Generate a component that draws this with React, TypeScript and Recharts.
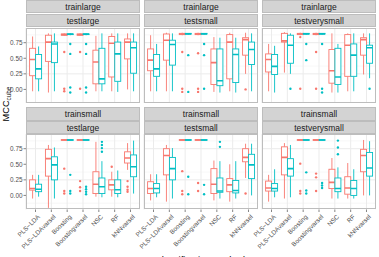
import React from 'react';
import { ComposedChart, Bar, XAxis, YAxis, CartesianGrid } from 'recharts';

// [lower whisker, q1, median, q3, upper whisker, outliers]
type Box = [number, number, number, number, number, number[]];

const classifiers = ['PLS−LDA', 'PLS−LDAvarsel', 'Boosting', 'Boostingvarsel', 'NSC', 'RF', 'kNNvarsel'];
const trainLabels = ['trainlarge', 'trainsmall'];
const testLabels = ['testlarge', 'testsmall', 'testverysmall'];
const yTicks = [0, 0.25, 0.5, 0.75];
const yMinor = [-0.125, 0.125, 0.375, 0.625, 0.875];
const yTickLabels = ['0.00', '0.25', '0.50', '0.75'];

// trainlarge / testlarge
const tlLargeRed: Box[] = [
  [-0.03, 0.22, 0.48, 0.66, 0.85, []],
  [-0.05, 0.45, 0.76, 0.87, 0.9, []],
  [0.86, 0.87, 0.88, 0.89, 0.9, [0.6, 0.01, -0.03]],
  [0.86, 0.87, 0.88, 0.89, 0.9, [0.6, 0.01]],
  [-0.03, 0.09, 0.44, 0.63, 0.86, []],
  [-0.03, 0.2, 0.74, 0.85, 0.9, []],
  [0.0, 0.49, 0.76, 0.81, 0.9, []],
];
const tlLargeTeal: Box[] = [
  [-0.03, 0.17, 0.33, 0.56, 0.69, []],
  [-0.03, 0.43, 0.73, 0.76, 0.9, []],
  [0.87, 0.88, 0.89, 0.89, 0.9, [0.73, 0.57, 0.03, -0.05]],
  [0.87, 0.88, 0.89, 0.89, 0.9, [0.73, 0.57, 0.03, -0.05]],
  [-0.03, 0.09, 0.17, 0.66, 0.9, []],
  [-0.04, 0.13, 0.57, 0.76, 0.9, []],
  [-0.03, 0.26, 0.67, 0.76, 0.9, []],
];
// trainlarge / testsmall
const tlSmallRed: Box[] = [
  [-0.03, 0.3, 0.47, 0.65, 0.87, []],
  [-0.03, 0.47, 0.79, 0.89, 0.91, []],
  [0.87, 0.88, 0.89, 0.9, 0.91, [0.6, 0.01, -0.04]],
  [0.87, 0.88, 0.89, 0.9, 0.91, [0.58, 0.01, -0.04]],
  [-0.04, 0.08, 0.43, 0.65, 0.84, []],
  [-0.03, 0.17, 0.76, 0.88, 0.91, []],
  [0.25, 0.55, 0.8, 0.83, 0.91, [0.0]],
];
const tlSmallTeal: Box[] = [
  [-0.03, 0.21, 0.33, 0.56, 0.73, []],
  [-0.03, 0.39, 0.72, 0.79, 0.9, []],
  [0.88, 0.89, 0.89, 0.9, 0.9, [0.55, -0.04]],
  [0.88, 0.89, 0.89, 0.9, 0.9, [0.73, 0.55, 0.01]],
  [-0.05, 0.06, 0.14, 0.65, 0.83, []],
  [-0.05, 0.11, 0.56, 0.65, 0.83, []],
  [-0.03, 0.4, 0.64, 0.76, 0.9, []],
];
// trainlarge / testverysmall
const tlVerySmallRed: Box[] = [
  [-0.03, 0.28, 0.48, 0.57, 0.73, []],
  [0.27, 0.76, 0.78, 0.9, 0.92, []],
  [0.87, 0.88, 0.89, 0.9, 0.91, [0.84, 0.01]],
  [0.87, 0.88, 0.89, 0.9, 0.91, [0.6, 0.01]],
  [-0.05, 0.1, 0.3, 0.64, 0.9, []],
  [-0.03, 0.21, 0.71, 0.88, 0.9, []],
  [0.24, 0.55, 0.8, 0.83, 0.9, []],
];
const tlVerySmallTeal: Box[] = [
  [-0.05, 0.24, 0.37, 0.56, 0.7, []],
  [0.25, 0.42, 0.71, 0.87, 0.9, [0.01]],
  [0.88, 0.89, 0.89, 0.9, 0.9, [0.73, 0.47]],
  [0.88, 0.89, 0.89, 0.9, 0.9, [0.73, 0.01, -0.05]],
  [-0.05, 0.08, 0.2, 0.66, 0.73, []],
  [-0.03, 0.21, 0.55, 0.73, 0.9, []],
  [0.18, 0.42, 0.67, 0.71, 0.9, [0.01]],
];
// trainsmall / testlarge
const tsLargeRed: Box[] = [
  [-0.05, 0.085, 0.11, 0.25, 0.33, []],
  [-0.2, 0.31, 0.59, 0.74, 0.81, []],
  [0.88, 0.885, 0.89, 0.895, 0.9, [0.43, 0.07, 0.03]],
  [0.88, 0.885, 0.89, 0.895, 0.9, [0.23, 0.13, 0.07]],
  [-0.02, 0.03, 0.18, 0.38, 0.86, []],
  [-0.02, 0.09, 0.17, 0.25, 0.38, [0.46]],
  [0.41, 0.52, 0.6, 0.7, 0.84, [0.23, 0.14, 0.09, 0.06]],
];
const tsLargeTeal: Box[] = [
  [-0.02, 0.06, 0.1, 0.18, 0.33, []],
  [-0.05, 0.25, 0.49, 0.62, 0.77, []],
  [0.88, 0.885, 0.89, 0.895, 0.9, [0.33, 0.07, 0.03]],
  [0.88, 0.885, 0.89, 0.895, 0.9, [0.14, 0.1, 0.06, 0.02]],
  [-0.03, 0.03, 0.14, 0.28, 0.55, [0.86, 0.81, 0.76, 0.7]],
  [-0.03, 0.03, 0.09, 0.25, 0.4, []],
  [0.03, 0.3, 0.46, 0.65, 0.88, []],
];
// trainsmall / testsmall
const tsSmallRed: Box[] = [
  [-0.08, 0.03, 0.11, 0.22, 0.34, []],
  [-0.1, 0.33, 0.64, 0.75, 0.81, []],
  [0.88, 0.885, 0.89, 0.895, 0.9, [0.39, 0.07, 0.02]],
  [0.88, 0.885, 0.89, 0.895, 0.9, [0.2, 0.07]],
  [-0.08, 0.03, 0.18, 0.43, 0.56, []],
  [-0.1, 0.06, 0.17, 0.27, 0.5, []],
  [0.28, 0.54, 0.61, 0.75, 0.83, [0.03]],
];
const tsSmallTeal: Box[] = [
  [-0.03, 0.04, 0.11, 0.19, 0.34, []],
  [-0.05, 0.25, 0.43, 0.61, 0.76, []],
  [0.88, 0.885, 0.89, 0.895, 0.9, [0.3, 0.02]],
  [0.88, 0.885, 0.89, 0.895, 0.9, [0.17, 0.02]],
  [-0.05, 0.05, 0.07, 0.28, 0.55, [0.86, 0.78]],
  [-0.05, 0.04, 0.08, 0.24, 0.55, []],
  [0.0, 0.27, 0.49, 0.66, 0.83, []],
];
// trainsmall / testverysmall
const tsVerySmallRed: Box[] = [
  [-0.1, 0.07, 0.12, 0.23, 0.33, []],
  [-0.05, 0.33, 0.61, 0.78, 0.84, []],
  [0.88, 0.885, 0.89, 0.895, 0.9, [0.51, 0.07, 0.03]],
  [0.88, 0.885, 0.89, 0.895, 0.9, [0.35, 0.29, 0.07]],
  [-0.05, 0.11, 0.21, 0.42, 0.6, []],
  [-0.05, 0.02, 0.12, 0.3, 0.52, []],
  [0.0, 0.38, 0.64, 0.74, 0.89, []],
];
const tsVerySmallTeal: Box[] = [
  [-0.03, 0.07, 0.11, 0.19, 0.42, []],
  [-0.03, 0.31, 0.43, 0.59, 0.81, []],
  [0.88, 0.885, 0.89, 0.895, 0.9, [0.37, 0.08, 0.03]],
  [0.88, 0.885, 0.89, 0.895, 0.9, [0.2, 0.16, 0.12]],
  [-0.05, 0.06, 0.11, 0.28, 0.45, [0.88, 0.77, 0.66]],
  [-0.05, 0.0, 0.11, 0.24, 0.42, []],
  [0.0, 0.31, 0.44, 0.69, 0.87, []],
];

const panelSeries: [Box[], Box[]][][] = [
  [[tlLargeRed, tlLargeTeal], [tlSmallRed, tlSmallTeal], [tlVerySmallRed, tlVerySmallTeal]],
  [[tsLargeRed, tsLargeTeal], [tsSmallRed, tsSmallTeal], [tsVerySmallRed, tsVerySmallTeal]],
];

const RED = '#F8766D';
const TEAL = '#00BFC4';
const FONT = '"Liberation Sans", Arial, Helvetica, sans-serif';

const PANEL_X = [26, 144, 262];
const PANEL_W = 114;
const PANEL_Y = [27.6, 133.8];
const PANEL_H = 75.5;
const STRIP_Y = [0, 107.2];
const STRIP_H = 13.4;
const LEFT_PAD = 34;
const Y_DOMAIN: [number, number] = [-0.226, 0.986];

function rangeOf(b: Box): [number, number] {
  const vals = [b[0], b[4], ...b[5]];
  return [Math.min(...vals), Math.max(...vals)];
}

function makeShape(key: 'red' | 'teal', color: string) {
  return (props: any) => {
    const { x, y, width, height, payload } = props;
    const b: Box = payload[key];
    const [lo, hi] = rangeOf(b);
    const py = (v: number) => y + (height * (hi - v)) / (hi - lo);
    const cx = x + width / 2;
    const [wl, q1, med, q3, wh, outs] = b;
    return (
      <g>
        <line x1={cx} x2={cx} y1={py(wh)} y2={py(q3)} stroke={color} strokeWidth={0.9} />
        <line x1={cx} x2={cx} y1={py(q1)} y2={py(wl)} stroke={color} strokeWidth={0.9} />
        <rect x={x} y={py(q3)} width={width} height={Math.max(py(q1) - py(q3), 0.5)} fill="#FFFFFF" stroke={color} strokeWidth={0.9} />
        <line x1={x} x2={x + width} y1={py(med)} y2={py(med)} stroke={color} strokeWidth={1.6} />
        {outs.map((o, i) => (
          <circle key={i} cx={cx} cy={py(o)} r={1.2} fill={color} />
        ))}
      </g>
    );
  };
}

const redShape = makeShape('red', RED);
const tealShape = makeShape('teal', TEAL);

const XTick = (props: any) => {
  const { x, y, payload } = props;
  return (
    <g transform={`translate(${x + 1.5},${y})`}>
      <text transform="rotate(-45)" textAnchor="end" dy="0.72em" fontSize={6.4} fill="#4D4D4D" fontFamily={FONT}>
        {payload.value}
      </text>
    </g>
  );
};

function Panel({ row, col }: { row: number; col: number }) {
  const [reds, teals] = panelSeries[row][col];
  const data = classifiers.map((name, i) => ({ name, red: reds[i], teal: teals[i] }));
  const showY = col === 0;
  const showX = row === 1;
  const yW = showY ? 26 : 0;
  const xH = showX ? 52 : 0;
  return (
    <div style={{ position: 'absolute', left: PANEL_X[col] - LEFT_PAD, top: PANEL_Y[row] }}>
      <ComposedChart
        width={PANEL_W + LEFT_PAD}
        height={PANEL_H + xH}
        data={data}
        margin={{ top: 0, right: 0, bottom: 0, left: LEFT_PAD - yW }}
        barGap={0}
        barSize={6}
      >
        <CartesianGrid horizontalValues={yMinor} vertical={false} stroke="#F2F2F2" strokeWidth={0.6} />
        <CartesianGrid horizontalValues={yTicks} stroke="#EBEBEB" strokeWidth={1} />
        <XAxis
          dataKey="name"
          type="category"
          interval={0}
          hide={!showX}
          height={xH}
          padding={{ left: 1.6, right: 1.6 }}
          axisLine={false}
          tickLine={{ stroke: '#666666', strokeWidth: 0.8 }}
          tickSize={2.5}
          tick={<XTick />}
        />
        <YAxis
          type="number"
          domain={Y_DOMAIN}
          allowDataOverflow
          ticks={yTicks}
          tickFormatter={(v: number) => yTickLabels[yTicks.indexOf(v)] ?? String(v)}
          hide={!showY}
          width={yW}
          axisLine={false}
          tickLine={{ stroke: '#666666', strokeWidth: 0.8 }}
          tickSize={2.5}
          tickMargin={1}
          tick={{ fontSize: 6.4, fill: '#4D4D4D', fontFamily: FONT }}
        />
        <Bar dataKey={(d: any) => rangeOf(d.red)} shape={redShape} isAnimationActive={false} />
        <Bar dataKey={(d: any) => rangeOf(d.teal)} shape={tealShape} isAnimationActive={false} />
      </ComposedChart>
    </div>
  );
}

function Strip({ row, col }: { row: number; col: number }) {
  const base: React.CSSProperties = {
    position: 'absolute',
    left: PANEL_X[col],
    width: PANEL_W,
    height: STRIP_H,
    background: '#D3D3D3',
    boxSizing: 'border-box',
    border: '0.6px solid #BDBDBD',
    color: '#1A1A1A',
    fontFamily: FONT,
    fontSize: 8.5,
    lineHeight: `${STRIP_H}px`,
    textAlign: 'center',
  };
  return (
    <>
      <div style={{ ...base, top: STRIP_Y[row] }}>{trainLabels[row]}</div>
      <div style={{ ...base, top: STRIP_Y[row] + STRIP_H + 0.4 }}>{testLabels[col]}</div>
    </>
  );
}

export default function App() {
  const cells: { row: number; col: number }[] = [];
  for (let r = 0; r < 2; r++) for (let c = 0; c < 3; c++) cells.push({ row: r, col: c });
  return (
    <div style={{ position: 'absolute', left: 0, top: 0, width: 379, height: 257, overflow: 'hidden', background: '#FFFFFF' }}>
      {cells.map((p) => (
        <Panel key={`p${p.row}${p.col}`} row={p.row} col={p.col} />
      ))}
      {cells.map((p) => (
        <div
          key={`b${p.row}${p.col}`}
          style={{
            position: 'absolute',
            left: PANEL_X[p.col],
            top: PANEL_Y[p.row],
            width: PANEL_W,
            height: PANEL_H,
            boxSizing: 'border-box',
            border: '0.7px solid #BDBDBD',
            pointerEvents: 'none',
          }}
        />
      ))}
      {cells.map((p) => (
        <Strip key={`s${p.row}${p.col}`} row={p.row} col={p.col} />
      ))}
      <svg style={{ position: 'absolute', left: 0, top: 0 }} width={379} height={257}>
        <text transform="translate(8.6,104) rotate(-90)" textAnchor="middle" fontFamily={FONT} fontSize={9.2} fill="#000000">
          MCC
          <tspan fontSize={6.4} dy={2.2}>cube</tspan>
        </text>
        <text x={201} y={263} textAnchor="middle" fontFamily={FONT} fontSize={9.5} fill="#000000">
          classification method
        </text>
      </svg>
    </div>
  );
}
